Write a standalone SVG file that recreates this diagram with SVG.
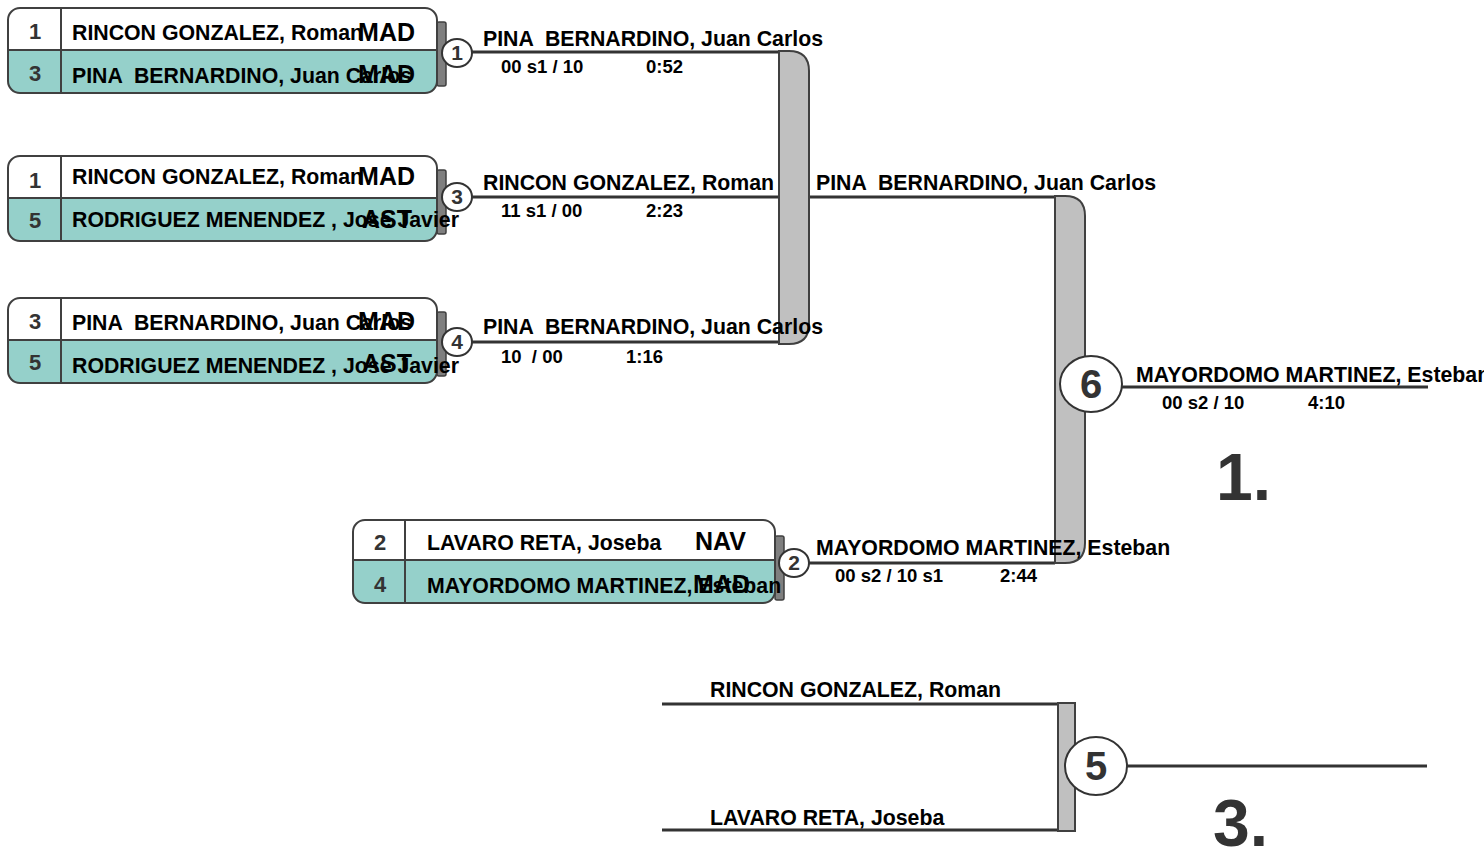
<svg xmlns="http://www.w3.org/2000/svg" width="1484" height="848" viewBox="0 0 1484 848" xml:space="preserve">
<style>
text{font-family:"Liberation Sans",Arial,sans-serif;white-space:pre;}
.nm{font-size:21.3px;font-weight:bold;fill:#000;}
.cc{font-size:25px;font-weight:bold;fill:#000;text-anchor:end;}
.sd{font-size:22px;font-weight:bold;fill:#333;text-anchor:middle;}
.lb{font-size:21.3px;font-weight:bold;fill:#000;}
.sc{font-size:18.5px;font-weight:bold;fill:#000;}
.mn{font-size:21px;font-weight:bold;fill:#333;text-anchor:middle;}
.bn{font-size:40px;font-weight:bold;fill:#333;text-anchor:middle;}
.rk{font-size:66px;font-weight:bold;fill:#333;}
.top{fill:#fff;}
.bot{fill:#95d0ca;}
.out{fill:none;stroke:#404040;stroke-width:2;}
.tab{fill:#7f7f7f;stroke:#404040;stroke-width:1.5;}
.mc{fill:#fff;stroke:#333;stroke-width:2;}
.br{fill:#c0c0c0;stroke:#404040;stroke-width:2;}
.ln{fill:none;stroke:#333;stroke-width:3;}
</style>
<defs>
<g id="frameA">
<rect class="tab" x="429" y="14" width="9" height="64" rx="2"/>
<path class="top" d="M0,42 V12 Q0,0 12,0 H417 Q429,0 429,12 V42 Z"/>
<path class="bot" d="M0,42 H429 V73 Q429,85 417,85 H12 Q0,85 0,73 Z"/>
<rect class="out" x="0" y="0" width="429" height="85" rx="12"/>
<path class="out" d="M0,42 H429 M53,0 V85"/>
</g>
<g id="frameB">
<rect class="tab" x="422" y="16" width="9" height="64" rx="2"/>
<path class="top" d="M0,40 V12 Q0,0 12,0 H410 Q422,0 422,12 V40 Z"/>
<path class="bot" d="M0,40 H422 V71 Q422,83 410,83 H12 Q0,83 0,71 Z"/>
<rect class="out" x="0" y="0" width="422" height="83" rx="12"/>
<path class="out" d="M0,40 H422 M52,0 V83"/>
</g>
</defs>

<g id="connectors">
<path class="ln" d="M471,52 H779"/>
<path class="ln" d="M471,197 H779"/>
<path class="ln" d="M471,342 H779"/>
<path class="ln" d="M809,197 H1055"/>
<path class="ln" d="M808,563 H1055"/>
<path class="ln" d="M1122,387 H1428"/>
<path class="ln" d="M662,704 H1060"/>
<path class="ln" d="M662,830 H1060"/>
<path class="ln" d="M1127,766 H1427"/>
</g>

<g id="bracket-semi">
<path class="br" d="M779,51 H789 Q809,51 809,71 V324 Q809,344 789,344 H779 Z"/>
</g>
<g id="bracket-final">
<path class="br" d="M1055,196 H1065 Q1085,196 1085,216 V543 Q1085,563 1065,563 H1055 Z"/>
</g>
<g id="bracket-third">
<rect class="br" x="1058" y="703" width="17" height="128"/>
</g>

<g id="box-m1">
<use href="#frameA" x="8" y="8"/>
<text class="sd" x="35" y="39">1</text>
<text class="nm" x="72" y="40">RINCON GONZALEZ, Roman</text>
<text class="cc" x="415" y="41">MAD</text>
<text class="sd" x="35" y="81">3</text>
<text class="nm" x="72" y="83">PINA  BERNARDINO, Juan Carlos</text>
<text class="cc" x="415" y="83">MAD</text>
</g>

<g id="box-m3">
<use href="#frameA" x="8" y="156"/>
<text class="sd" x="35" y="188">1</text>
<text class="nm" x="72" y="184">RINCON GONZALEZ, Roman</text>
<text class="cc" x="415" y="185">MAD</text>
<text class="sd" x="35" y="228">5</text>
<text class="nm" x="72" y="227">RODRIGUEZ MENENDEZ , Jose Javier</text>
<text class="cc" x="412" y="228">AST</text>
</g>

<g id="box-m4">
<use href="#frameA" x="8" y="298"/>
<text class="sd" x="35" y="329">3</text>
<text class="nm" x="72" y="330">PINA  BERNARDINO, Juan Carlos</text>
<text class="cc" x="415" y="330">MAD</text>
<text class="sd" x="35" y="370">5</text>
<text class="nm" x="72" y="373">RODRIGUEZ MENENDEZ , Jose Javier</text>
<text class="cc" x="412" y="372">AST</text>
</g>

<g id="box-m2">
<use href="#frameB" x="353" y="520"/>
<text class="sd" x="380" y="550">2</text>
<text class="nm" x="427" y="550">LAVARO RETA, Joseba</text>
<text class="cc" x="746" y="550">NAV</text>
<text class="sd" x="380" y="592">4</text>
<text class="nm" x="427" y="593">MAYORDOMO MARTINEZ, Esteban</text>
<text class="cc" x="750" y="593">MAD</text>
</g>

<g id="match-1">
<ellipse class="mc" cx="457" cy="53" rx="15" ry="14"/>
<text class="mn" x="457" y="60">1</text>
<text class="lb" x="483" y="46">PINA  BERNARDINO, Juan Carlos</text>
<text class="sc" x="501" y="73">00 s1 / 10</text>
<text class="sc" x="646" y="73">0:52</text>
</g>

<g id="match-3">
<ellipse class="mc" cx="457" cy="197" rx="15" ry="14"/>
<text class="mn" x="457" y="204">3</text>
<text class="lb" x="483" y="190">RINCON GONZALEZ, Roman</text>
<text class="sc" x="501" y="217">11 s1 / 00</text>
<text class="sc" x="646" y="217">2:23</text>
</g>

<g id="match-4">
<ellipse class="mc" cx="457" cy="342" rx="15" ry="14"/>
<text class="mn" x="457" y="349">4</text>
<text class="lb" x="483" y="334">PINA  BERNARDINO, Juan Carlos</text>
<text class="sc" x="501" y="363">10  / 00</text>
<text class="sc" x="626" y="363">1:16</text>
</g>

<g id="semi-winner">
<text class="lb" x="816" y="190">PINA  BERNARDINO, Juan Carlos</text>
</g>

<g id="match-2">
<ellipse class="mc" cx="794" cy="563" rx="15" ry="14"/>
<text class="mn" x="794" y="570">2</text>
<text class="lb" x="816" y="555">MAYORDOMO MARTINEZ, Esteban</text>
<text class="sc" x="835" y="582">00 s2 / 10 s1</text>
<text class="sc" x="1000" y="582">2:44</text>
</g>

<g id="match-6">
<ellipse class="mc" cx="1091" cy="384" rx="31" ry="28"/>
<text class="bn" x="1091" y="398">6</text>
<text class="lb" x="1136" y="382">MAYORDOMO MARTINEZ, Esteban</text>
<text class="sc" x="1162" y="409">00 s2 / 10</text>
<text class="sc" x="1308" y="409">4:10</text>
<text class="rk" x="1216" y="500">1.</text>
</g>

<g id="match-5">
<text class="lb" x="710" y="697">RINCON GONZALEZ, Roman</text>
<text class="lb" x="710" y="825">LAVARO RETA, Joseba</text>
<ellipse class="mc" cx="1096" cy="766" rx="31" ry="29"/>
<text class="bn" x="1096" y="780">5</text>
<text class="rk" x="1213" y="846">3.</text>
</g>
</svg>
